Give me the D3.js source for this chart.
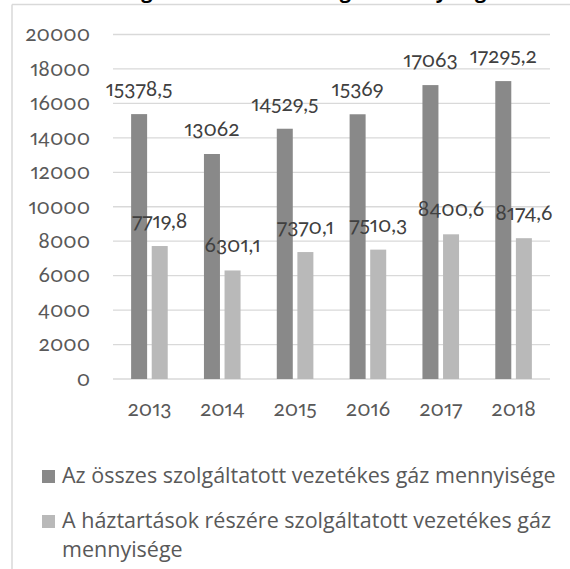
<!DOCTYPE html>
<html>
<head>
<meta charset="utf-8">
<script src="https://cdn.jsdelivr.net/npm/d3@7"></script>
<style>
  html, body { margin: 0; padding: 0; background: #fff; }
  svg { display: block; }
  .num { font-family: Lato, "Noto Sans", sans-serif; font-variant-numeric: oldstyle-nums; font-feature-settings: "onum" 1, "pnum" 1; }
  .leg { font-family: "Open Sans", "Noto Sans", sans-serif; }
</style>
</head>
<body>
<svg id="chart" width="570" height="569"></svg>
<script>
// Years on the category axis
const years = ["2013", "2014", "2015", "2016", "2017", "2018"];
// Total piped gas supplied
const totalGas = [15378.5, 13062, 14529.5, 15369, 17063, 17295.2];
// Piped gas supplied to households
const householdGas = [7719.8, 6301.1, 7370.1, 7510.3, 8400.6, 8174.6];
// Value labels as printed (Hungarian decimal comma)
const totalLabels = ["15378,5", "13062", "14529,5", "15369", "17063", "17295,2"];
const householdLabels = ["7719,8", "6301,1", "7370,1", "7510,3", "8400,6", "8174,6"];
// Y axis ticks
const yTicks = [0, 2000, 4000, 6000, 8000, 10000, 12000, 14000, 16000, 18000, 20000];
// Series names and colours
const seriesNames = [
  "Az összes szolgáltatott vezetékes gáz mennyisége",
  "A háztartások részére szolgáltatott vezetékes gáz mennyisége"
];
const seriesColors = ["#898989", "#b9b9b9"];
const chartTitle = "Szolgáltatott vezetékes gáz mennyisége";

const svg = d3.select("#chart");
const W = 570, H = 569;
const plot = { left: 113, right: 550, top: 34.5, bottom: 379 };

// outer frame (left and top edges)
svg.append("line").attr("x1", 12).attr("x2", 12).attr("y1", 4.5).attr("y2", H)
  .attr("stroke", "#d9d9d9").attr("stroke-width", 1.5);
svg.append("line").attr("x1", 12).attr("x2", W).attr("y1", 4.5).attr("y2", 4.5)
  .attr("stroke", "#d9d9d9").attr("stroke-width", 1.5);

// title sitting above the frame
svg.append("text").attr("x", 300).attr("y", -2).attr("text-anchor", "middle")
  .attr("font-family", "'Open Sans', sans-serif").attr("font-weight", "bold")
  .attr("font-size", 20).attr("fill", "#000").text(chartTitle);

const y = d3.scaleLinear().domain([0, 20000]).range([plot.bottom, plot.top]);
const x = d3.scaleBand().domain(years).range([plot.left, plot.right]).paddingInner(0).paddingOuter(0);
const sub = d3.scaleBand().domain([0, 1]).range([-18.3, 18.3]).paddingInner(4.6 / 20.6).paddingOuter(0);

// gridlines
const grid = svg.append("g");
grid.selectAll("line").data(yTicks).join("line")
  .attr("x1", plot.left).attr("x2", plot.right)
  .attr("y1", d => y(d)).attr("y2", d => y(d))
  .attr("stroke", "#d9d9d9").attr("stroke-width", 1.3);

// y axis labels
const yAxis = d3.axisLeft(y).tickValues(yTicks).tickSize(0).tickPadding(0).tickFormat(d3.format("d"));
const ya = svg.append("g").attr("transform", "translate(90,0)").call(yAxis);
ya.select(".domain").remove();
ya.selectAll("text").attr("class", "num").attr("font-size", 21).attr("fill", "#595959").attr("dy", "0.3em");

// x axis labels
const xAxis = d3.axisBottom(x).tickSize(0).tickPadding(0);
const xa = svg.append("g").attr("transform", "translate(0,416)").call(xAxis);
xa.select(".domain").remove();
xa.selectAll("text").attr("class", "num").attr("font-size", 21).attr("fill", "#595959").attr("dy", 0);

// bars
const rows = years.map((yr, i) => ({ yr, vals: [totalGas[i], householdGas[i]], labels: [totalLabels[i], householdLabels[i]] }));
const groups = svg.append("g").selectAll("g").data(rows).join("g")
  .attr("transform", d => `translate(${x(d.yr) + x.bandwidth() / 2},0)`);
groups.selectAll("rect").data(d => d.vals.map((v, k) => ({ v, k }))).join("rect")
  .attr("x", d => sub(d.k)).attr("width", sub.bandwidth())
  .attr("y", d => y(d.v)).attr("height", d => y(0) - y(d.v))
  .attr("fill", d => seriesColors[d.k]);

// value labels
groups.selectAll("text.val").data(d => d.vals.map((v, k) => ({ v, k, t: d.labels[k] }))).join("text")
  .attr("class", "val num")
  .attr("x", d => sub(d.k) + sub.bandwidth() / 2)
  .attr("y", d => y(d.v) - 18)
  .attr("text-anchor", "middle").attr("font-size", 21).attr("fill", "#404040")
  .text(d => d.t);

// legend
const leg = svg.append("g");
const legRows = [
  { k: 0, lines: [seriesNames[0]], y: 483 },
  { k: 1, lines: ["A háztartások részére szolgáltatott vezetékes gáz", "mennyisége"], y: 528 }
];
legRows.forEach(r => {
  leg.append("rect").attr("x", 42).attr("y", r.y - 13).attr("width", 13).attr("height", 13)
    .attr("fill", seriesColors[r.k]);
  r.lines.forEach((ln, j) => {
    leg.append("text").attr("class", "leg").attr("x", 62).attr("y", r.y + j * 29)
      .attr("font-size", 21).attr("fill", "#595959").text(ln);
  });
});
// fit the first legend line to its row width
const first = leg.select("text.leg").node();
const w = first.getComputedTextLength();
const fs = 21 * 494 / w;
leg.selectAll("text.leg").attr("font-size", fs);
</script>
</body>
</html>
